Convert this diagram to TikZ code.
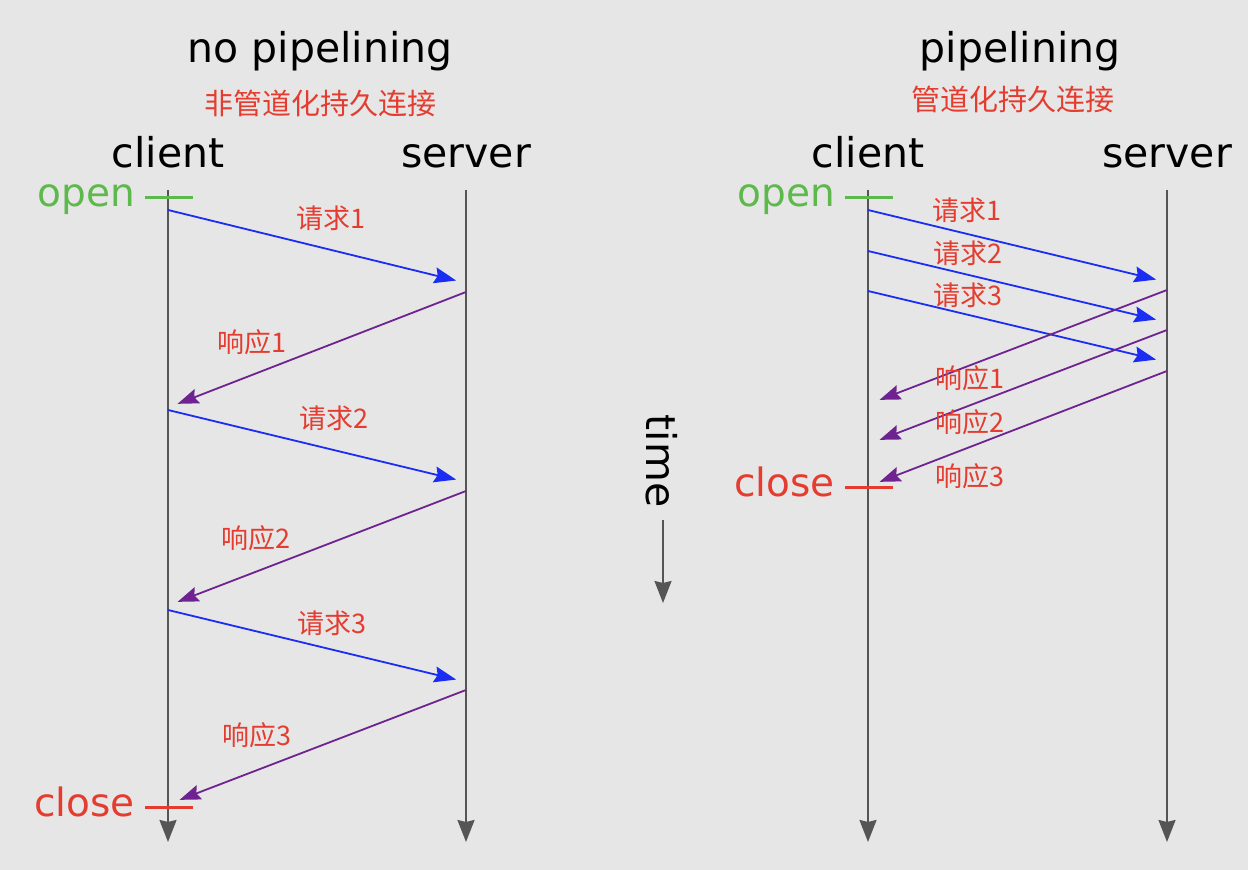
\documentclass[tikz,border=0pt]{standalone}
\usepackage{fontspec}
\setmainfont{DejaVu Sans}
\newfontfamily\cjk{Noto Sans CJK SC}
\usepackage{tikz}
\usetikzlibrary{arrows.meta}
\definecolor{bggray}{HTML}{E6E6E6}
\definecolor{linegray}{HTML}{555555}
\definecolor{openGreen}{HTML}{5DB94B}
\definecolor{closeRed}{HTML}{E43D30}
\definecolor{reqBlue}{HTML}{1B2DF2}
\definecolor{respPurple}{HTML}{6E2390}

\begin{document}
\begin{tikzpicture}[x=0.5pt, y=-0.5pt,
	big/.style={font=\fontsize{20.5}{24}\selectfont, anchor=base},
	statelabel/.style={font=\fontsize{19.5}{23}\selectfont, anchor=base east},
	title/.style={font=\cjk\fontsize{14.5}{17}\selectfont, text=closeRed},
	msglabel/.style={font=\cjk\fontsize{13.5}{16}\selectfont, text=closeRed},
	life/.style={draw=linegray, line width=1pt, -{Stealth[length=11pt, width=8.5pt, inset=1pt]}},
	req/.style={draw=reqBlue, line width=0.9pt, -{Stealth[length=11pt, width=8pt, inset=1.5pt]}, shorten >=3pt},
	resp/.style={draw=respPurple, line width=0.9pt, -{Stealth[length=10.5pt, width=7.5pt, inset=1.5pt]}, shorten >=3pt},
	tick/.style={line width=1.5pt}]

	\fill[bggray] (0,0) rectangle (1248,870);
	\useasboundingbox (0,0) rectangle (1248,870);

	% no pipelining
	\node[big]   (titleA)   at (320,63)   {no pipelining};
	\node[title] (subA)     at (320,103)  {非管道化持久连接};
	\node[big]   (clientA)  at (168,168)  {client};
	\node[big]   (serverA)  at (466,168)  {server};
	\coordinate (cA top) at (168,190);  \coordinate (cA bot) at (168,842);
	\coordinate (sA top) at (466,190);  \coordinate (sA bot) at (466,842);
	\path (cA top) edge[life] (cA bot)
	      (sA top) edge[life] (sA bot);

	\node[statelabel, text=openGreen] (openA) at (142,207) {open};
	\coordinate (oA1) at (145,198); \coordinate (oA2) at (193,198);
	\draw[tick, openGreen] (oA1) -- (oA2);
	\node[statelabel, text=closeRed] (closeA) at (142,817) {close};
	\coordinate (xA1) at (145,808); \coordinate (xA2) at (193,808);
	\draw[tick, closeRed] (xA1) -- (xA2);

	\coordinate (qA1s) at (168,210); \coordinate (qA1e) at (462,282);
	\coordinate (rA1s) at (466,292); \coordinate (rA1e) at (172,406);
	\coordinate (qA2s) at (168,410); \coordinate (qA2e) at (462,481);
	\coordinate (rA2s) at (466,491); \coordinate (rA2e) at (172,604);
	\coordinate (qA3s) at (168,610); \coordinate (qA3e) at (462,681);
	\coordinate (rA3s) at (466,690); \coordinate (rA3e) at (174,802);
	\path (qA1s) edge[req]  (qA1e)
	      (rA1s) edge[resp] (rA1e)
	      (qA2s) edge[req]  (qA2e)
	      (rA2s) edge[resp] (rA2e)
	      (qA3s) edge[req]  (qA3e)
	      (rA3s) edge[resp] (rA3e);
	\node[msglabel] (lqA1) at (331,218) {请求1};
	\node[msglabel] (lrA1) at (252,342) {响应1};
	\node[msglabel] (lqA2) at (334,418) {请求2};
	\node[msglabel] (lrA2) at (256,538) {响应2};
	\node[msglabel] (lqA3) at (332,623) {请求3};
	\node[msglabel] (lrA3) at (257,735) {响应3};

	% time
	\node[font=\fontsize{20.5}{24}\selectfont, rotate=-90] (time) at (662,461) {time};
	\coordinate (tTop) at (663,520); \coordinate (tBot) at (663,603);
	\path (tTop) edge[life] (tBot);

	% pipelining
	\node[big]   (titleB)   at (1020,63)  {pipelining};
	\node[title] (subB)     at (1013,99)  {管道化持久连接};
	\node[big]   (clientB)  at (868,168)  {client};
	\node[big]   (serverB)  at (1167,168) {server};
	\coordinate (cB top) at (868,190);  \coordinate (cB bot) at (868,842);
	\coordinate (sB top) at (1167,190); \coordinate (sB bot) at (1167,842);
	\path (cB top) edge[life] (cB bot)
	      (sB top) edge[life] (sB bot);

	\node[statelabel, text=openGreen] (openB) at (842,207) {open};
	\coordinate (oB1) at (845,198); \coordinate (oB2) at (893,198);
	\draw[tick, openGreen] (oB1) -- (oB2);
	\node[statelabel, text=closeRed] (closeB) at (842,497) {close};
	\coordinate (xB1) at (845,488); \coordinate (xB2) at (893,488);
	\draw[tick, closeRed] (xB1) -- (xB2);

	\coordinate (qB1s) at (868,210); \coordinate (qB1e) at (1162,281);
	\coordinate (qB2s) at (868,251); \coordinate (qB2e) at (1162,321);
	\coordinate (qB3s) at (868,291); \coordinate (qB3e) at (1162,361);
	\coordinate (rB1s) at (1167,290); \coordinate (rB1e) at (874,402);
	\coordinate (rB2s) at (1167,330); \coordinate (rB2e) at (874,442);
	\coordinate (rB3s) at (1167,371); \coordinate (rB3e) at (874,484);
	\path (qB1s) edge[req]  (qB1e)
	      (qB2s) edge[req]  (qB2e)
	      (qB3s) edge[req]  (qB3e)
	      (rB1s) edge[resp] (rB1e)
	      (rB2s) edge[resp] (rB2e)
	      (rB3s) edge[resp] (rB3e);
	\node[msglabel] (lqB1) at (967,210) {请求1};
	\node[msglabel] (lqB2) at (968,253) {请求2};
	\node[msglabel] (lqB3) at (968,295) {请求3};
	\node[msglabel] (lrB1) at (970,378) {响应1};
	\node[msglabel] (lrB2) at (970,422) {响应2};
	\node[msglabel] (lrB3) at (970,476) {响应3};
\end{tikzpicture}
\end{document}
